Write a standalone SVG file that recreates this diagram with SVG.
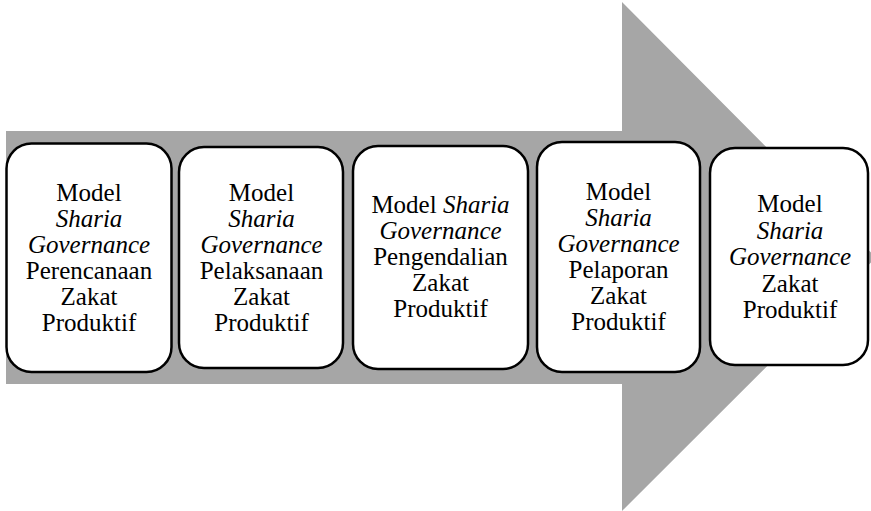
<svg xmlns="http://www.w3.org/2000/svg" width="871" height="511" viewBox="0 0 871 511">
<style>
.box{fill:#ffffff;stroke:#000000;stroke-width:2.5}
.i{font-style:italic}
</style>
<rect width="871" height="511" fill="#ffffff"/>
<g id="connectors">
<polygon points="6,131 622,131 622,2 876,257.5 622,511 622,384 6,384" fill="#a6a6a6"/>
</g>
<g font-family="Liberation Serif" font-size="25" text-anchor="middle" fill="#000000">
<g id="node1">
<rect class="box" x="6.5" y="143.5" width="165" height="228.5" rx="25"/>
<text x="89" y="201">Model</text>
<text class="i" x="89" y="227">Sharia</text>
<text class="i" x="89" y="253">Governance</text>
<text x="89" y="279">Perencanaan</text>
<text x="89" y="305">Zakat</text>
<text x="89" y="331">Produktif</text>
</g>
<g id="node2">
<rect class="box" x="179" y="147" width="164" height="221" rx="25"/>
<text x="261.5" y="201">Model</text>
<text class="i" x="261.5" y="227">Sharia</text>
<text class="i" x="261.5" y="253">Governance</text>
<text x="261.5" y="279">Pelaksanaan</text>
<text x="261.5" y="305">Zakat</text>
<text x="261.5" y="331">Produktif</text>
</g>
<g id="node3">
<rect class="box" x="353" y="146" width="175" height="223" rx="25"/>
<text x="440.5" y="213">Model <tspan class="i">Sharia</tspan></text>
<text class="i" x="440.5" y="239">Governance</text>
<text x="440.5" y="265">Pengendalian</text>
<text x="440.5" y="291">Zakat</text>
<text x="440.5" y="317">Produktif</text>
</g>
<g id="node4">
<rect class="box" x="537" y="142" width="163" height="230" rx="25"/>
<text x="618.5" y="200">Model</text>
<text class="i" x="618.5" y="226">Sharia</text>
<text class="i" x="618.5" y="252">Governance</text>
<text x="618.5" y="278">Pelaporan</text>
<text x="618.5" y="304">Zakat</text>
<text x="618.5" y="330">Produktif</text>
</g>
<g id="node5">
<rect class="box" x="710" y="148" width="158" height="217" rx="25"/>
<text x="790" y="212">Model</text>
<text class="i" x="790" y="238.5">Sharia</text>
<text class="i" x="790" y="265">Governance</text>
<text x="790" y="291.5">Zakat</text>
<text x="790" y="318">Produktif</text>
</g>
</g>
</svg>
